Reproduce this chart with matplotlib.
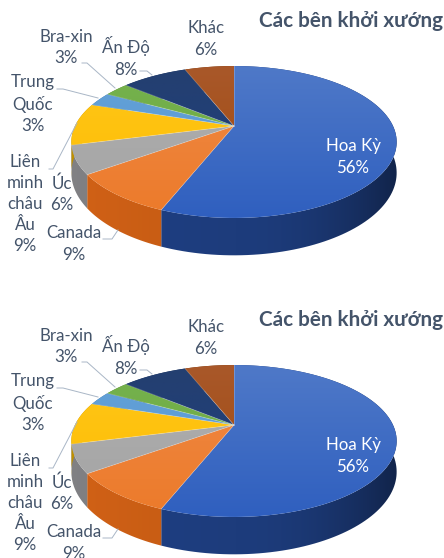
import numpy as np
import matplotlib
matplotlib.use('Agg')
import matplotlib.pyplot as plt
from matplotlib.colors import to_rgb
from matplotlib.patches import Polygon

plt.rcParams['font.family'] = ['Lato', 'Open Sans', 'DejaVu Sans']

title = 'Các bên khởi xướng'
names = ['Hoa Kỳ', 'Canada', 'Úc', 'Liên\nminh\nchâu\nÂu', 'Trung\nQuốc', 'Bra-xin', 'Ấn Độ', 'Khác']
values = [56, 9, 6, 9, 3, 3, 8, 6]

# slice colours: top face upper, top face lower, wall
top_hi = ['#4f79c8', '#f08a46', '#b0b0b0', '#ffc61a', '#64a2d8', '#76b24e', '#243f70', '#a9582a']
top_lo = ['#2f5fbf', '#ec7a2a', '#a3a3a3', '#fdbd00', '#5796d2', '#6aa840', '#1f3f80', '#a04a0c']
wall_col = ['#1d3c7c', '#c25a14', '#77777a', '#b08500', '#3f6c98', '#4f7a30', '#1a2f55', '#6e3208']

# label centres and leader lines, pixels from the top left of one panel
label_xy = [(353, 157), (74, 244), (62, 194), (25, 204), (33, 104), (66, 47.5), (126, 57), (206, 39)]
leaders = [
    [(103, 239), (112, 239), (118, 230)],
    [(49, 169), (53, 169), (77, 123)],
    [(57, 89), (63, 89), (98, 98)],
    [(82, 63), (87, 63), (115, 88)],
    [(140, 71), (147, 71), (152, 75)],
]
panel_offset = [0, 299]

text_col = '#44546a'
cx, cy = 234, 126
R, H, k, depth = 159, 72.6, 0.2105, 29.5


def project(theta, dy):
    u, v = np.sin(theta), np.cos(theta)
    w = 1 + k * v
    return cx + R * u / w, cy + dy - H * v / w, depth / w


fig = plt.figure(figsize=(4.44, 5.58), dpi=100)
ax = fig.add_axes([0, 0, 1, 1])

fracs = np.cumsum([0] + values) / sum(values) * 2 * np.pi
x_left, x_right = cx - R - 8, cx + R + 8

for dy in panel_offset:
    y_top, y_bot = cy + dy - 62, cy + dy + 94
    # walls first, the top face covers the back part of them
    for i in range(len(values)):
        th = np.linspace(fracs[i], fracs[i + 1], 120)
        xs, ys, ds = project(th, dy)
        outline = list(zip(xs, ys)) + list(zip(xs[::-1], (ys + ds)[::-1]))
        poly = Polygon(outline, closed=True, fc='none', ec='none')
        ax.add_patch(poly)
        # horizontal shading, much darker at the right hand end
        s = np.linspace(-1, 1, 128)
        shade = 1.0 - 0.42 * np.clip(s, 0, 1) ** 2 + 0.08 * np.clip(-s, 0, 1)
        grad = np.clip(np.array(to_rgb(wall_col[i]))[None, None, :] * shade[None, :, None], 0, 1)
        im = ax.imshow(grad, extent=(x_left, x_right, y_bot + 40, y_top), aspect='auto',
                       zorder=1, interpolation='bilinear')
        im.set_clip_path(poly)

    # top face, each slice a vertical gradient clipped to its outline
    for i in range(len(values)):
        th = np.linspace(fracs[i], fracs[i + 1], 120)
        xs, ys, _ = project(th, dy)
        pts = [(cx, cy + dy)] + list(zip(xs, ys))
        poly = Polygon(pts, closed=True, fc='none', ec='none')
        ax.add_patch(poly)
        hi, lo = np.array(to_rgb(top_hi[i])), np.array(to_rgb(top_lo[i]))
        t = np.linspace(0, 1, 64)[:, None, None]
        grad = hi[None, None, :] * (1 - t) + lo[None, None, :] * t
        im = ax.imshow(grad, extent=(x_left, x_right, y_bot, y_top), aspect='auto',
                       zorder=2, interpolation='bilinear')
        im.set_clip_path(poly)
        ax.plot([p[0] for p in pts[:2]], [p[1] for p in pts[:2]], color='white',
                alpha=0.25, lw=0.6, zorder=3)

    for seg in leaders:
        ax.plot([p[0] for p in seg], [p[1] + dy for p in seg], color='#a9b6c6', lw=0.7, zorder=4)

    for i, name in enumerate(names):
        col = 'white' if i == 0 else text_col
        ax.text(label_xy[i][0], label_xy[i][1] + dy, f'{name}\n{values[i]}%', color=col,
                ha='center', va='center', fontsize=12.2, linespacing=1.4, zorder=5)

    ax.text(258.5, 21 + dy, title, color=text_col, fontsize=14.9, fontweight='bold',
            ha='left', va='center', zorder=5)

ax.set_xlim(0, 444)
ax.set_ylim(558, 0)
ax.axis('off')
fig.savefig('out.png', dpi=100, facecolor='white')
